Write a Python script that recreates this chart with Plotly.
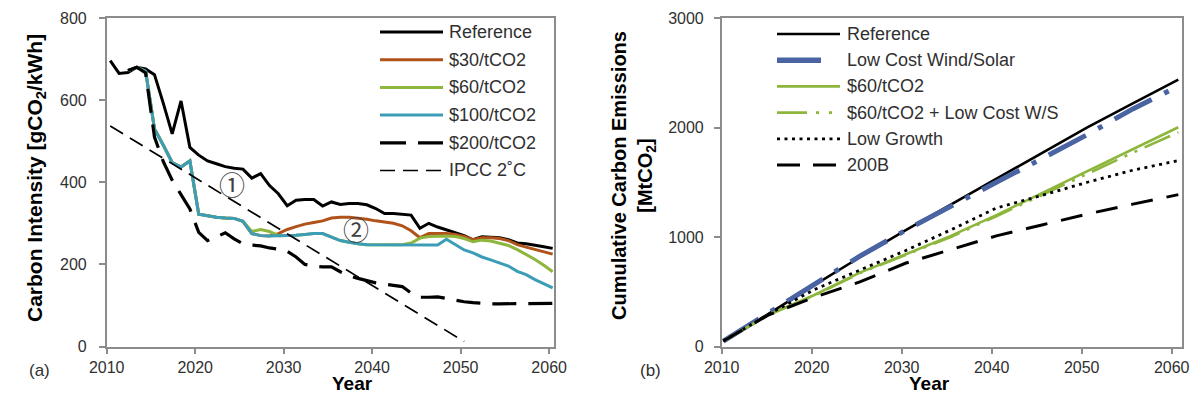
import plotly.graph_objects as go

W, H = 1204, 407
FONT = "Liberation Sans, Arial, sans-serif"
AX = "#8c8c8c"
TXT = "#303030"

# ---------------- data: panel (a) carbon intensity ----------------
years_ref = list(range(2010, 2061))
years_pol = list(range(2012, 2061))

ref_int = [696, 665, 667, 680, 676, 662, 592, 518, 598, 485,
           466, 452, 445, 438, 434, 432, 410, 421, 392, 372,
           343, 356, 358, 358, 342, 352, 346, 348, 348, 345,
           336, 324, 324, 322, 320, 288, 300, 291, 284, 278,
           270, 260, 267, 266, 265, 260, 252, 250, 247, 243, 239]

c30 = [672, 680, 670, 530, 490, 448, 437, 452, 322, 318,
       315, 313, 312, 305, 275, 270, 269, 275, 285, 292,
       298, 302, 306, 313, 315, 315, 313, 310, 306, 303,
       300, 294, 282, 265, 275, 275, 275, 273, 268, 260,
       265, 265, 263, 258, 248, 242, 236, 230, 225]

c60 = [672, 680, 670, 530, 490, 448, 437, 452, 322, 318,
       315, 313, 312, 305, 280, 285, 280, 270, 270, 271,
       273, 275, 275, 266, 258, 254, 250, 248, 248, 248,
       248, 248, 252, 264, 268, 269, 269, 268, 263, 255,
       259, 257, 252, 246, 236, 225, 212, 198, 182]

c100 = [672, 680, 670, 530, 490, 448, 437, 452, 322, 318,
        315, 313, 312, 305, 275, 270, 269, 270, 270, 271,
        273, 275, 275, 266, 258, 254, 250, 248, 248, 248,
        248, 248, 247, 247, 247, 247, 261, 248, 235, 228,
        218, 211, 203, 196, 183, 175, 163, 153, 143]

c200 = [672, 680, 666, 510, 450, 405, 370, 335, 278, 258,
        267, 277, 262, 250, 247, 245, 240, 237, 232, 218,
        200, 196, 194, 194, 182, 172, 166, 160, 155, 152,
        149, 146, 130, 120, 120, 121, 117, 113, 109, 107,
        105, 104, 104, 104, 105, 104, 104, 104, 105]

ipcc_years = [2010, 2050]
ipcc_vals = [537, 12]

# ---------------- data: panel (b) cumulative emissions ----------------
cum_years = [2010, 2015, 2020, 2025, 2030, 2035, 2040, 2045, 2050, 2055, 2060]
cum_ref = [50, 300, 560, 815, 1060, 1295, 1525, 1760, 2002, 2220, 2438]
cum_lcws = [50, 305, 570, 825, 1060, 1285, 1500, 1715, 1935, 2170, 2377]
cum_60 = [50, 290, 470, 675, 840, 1010, 1200, 1400, 1600, 1800, 2002]
cum_60lc = [50, 290, 465, 670, 835, 1000, 1190, 1385, 1580, 1770, 1956]
cum_low = [50, 295, 520, 700, 875, 1065, 1265, 1380, 1500, 1610, 1698]
cum_200b = [50, 290, 450, 590, 760, 885, 1010, 1110, 1210, 1300, 1387]

tick_years = [2010, 2020, 2030, 2040, 2050, 2060]

BROWN = "#B0521A"
GREEN = "#8DB63C"
TEAL = "#3C9DB6"
BLUE = "#4A64A3"

fig = go.Figure()

def add(x, y, color, width, dash="solid", xa="x", ya="y"):
    fig.add_trace(go.Scatter(x=x, y=y, mode="lines", xaxis=xa, yaxis=ya,
                             line=dict(color=color, width=width, dash=dash),
                             showlegend=False, hoverinfo="skip"))

# panel (a)
add(years_ref, ref_int, "black", 3)
add(years_pol, c30, BROWN, 3)
add(years_pol, c60, GREEN, 3)
add(years_pol, c100, TEAL, 3)
add(years_pol, c200, "black", 3.2, "24px,12px")
add(ipcc_years, ipcc_vals, "black", 1.7, "15px,8px")

# panel (b)
add(cum_years, cum_ref, "black", 2.6, xa="x2", ya="y2")
add(cum_years, cum_lcws, BLUE, 5, "42px,14px,5px,14px", "x2", "y2")
add(cum_years, cum_60, GREEN, 2.6, xa="x2", ya="y2")
add(cum_years, cum_60lc, GREEN, 2.6, "28px,8px,3px,8px,3px,8px", "x2", "y2")
add(cum_years, cum_low, "black", 2.8, "3px,4.5px", "x2", "y2")
add(cum_years, cum_200b, "black", 3, "22px,14px", "x2", "y2")

def px(x):
    return x / W

def py(y):
    return 1 - y / H

ydom = [py(346.5), py(18)]
axis_common = dict(showline=True, linecolor=AX, linewidth=1.5, mirror=True,
                   showgrid=False, zeroline=False, ticks="outside",
                   tickcolor=AX, tickwidth=1.5, ticklen=6, automargin=False,
                   tickfont=dict(family=FONT, size=16, color=TXT))

fig.update_layout(
    template="none",
    width=W, height=H, margin=dict(l=0, r=0, t=0, b=0, pad=0),
    paper_bgcolor="white", plot_bgcolor="white",
    xaxis=dict(domain=[px(106.7), px(554)], range=[2009.6, 2060.15],
               tickvals=[t - 0.4 for t in tick_years],
               ticktext=[str(t) for t in tick_years], anchor="y", **axis_common),
    yaxis=dict(domain=ydom, range=[0, 800], tickvals=[0, 200, 400, 600, 800],
               anchor="x", ticklabelstandoff=9, **axis_common),
    xaxis2=dict(domain=[px(721.7), px(1181.7)], range=[2009.82, 2060.37],
                tickvals=[2009.82 + (t - 2010) * 0.989 for t in tick_years],
                ticktext=[str(t) for t in tick_years], anchor="y2", **axis_common),
    yaxis2=dict(domain=ydom, range=[0, 3000], tickvals=[0, 1000, 2000, 3000],
                anchor="x2", ticklabelstandoff=7, **axis_common),
)

ann = []
shapes = []

# axis titles
ann.append(dict(x=px(330), y=py(396), xref="paper", yref="paper", text="<b>Year</b>",
                showarrow=False, font=dict(family=FONT, size=19, color="black")))
ann.append(dict(x=px(951.7), y=py(396), xref="paper", yref="paper", text="<b>Year</b>",
                showarrow=False, font=dict(family=FONT, size=19, color="black")))
ann.append(dict(x=px(21), y=py(178), xref="paper", yref="paper", textangle=-90,
                text="<b>Carbon Intensity [gCO<sub>2</sub>/kWh]</b>",
                showarrow=False, font=dict(family=FONT, size=21, color="black")))
ann.append(dict(x=px(633), y=py(176), xref="paper", yref="paper", textangle=-90,
                text="<b>Cumulative Carbon Emissions<br>[MtCO<sub>2</sub>]</b>",
                showarrow=False, font=dict(family=FONT, size=20, color="black")))
# panel labels
ann.append(dict(x=px(27), y=py(382), xref="paper", yref="paper", text="(a)",
                showarrow=False, font=dict(family=FONT, size=17, color=TXT)))
ann.append(dict(x=px(650), y=py(382), xref="paper", yref="paper", text="(b)",
                showarrow=False, font=dict(family=FONT, size=17, color=TXT)))
# circled markers
ann.append(dict(x=2023.8, y=397, xref="x", yref="y", text="①", showarrow=False,
                font=dict(family="Noto Sans CJK JP", size=26, color="#404040")))
ann.append(dict(x=2037.8, y=288, xref="x", yref="y", text="②", showarrow=False,
                font=dict(family="Noto Sans CJK JP", size=26, color="#404040")))

# legends drawn manually
def legend(x0, x1, xt, rows):
    for (yy, color, width, dash, label) in rows:
        shapes.append(dict(type="line", xref="paper", yref="paper",
                           x0=px(x0), x1=px(x1), y0=py(yy), y1=py(yy),
                           line=dict(color=color, width=width, dash=dash)))
        ann.append(dict(x=px(xt), y=py(yy), xref="paper", yref="paper",
                        xanchor="left", yanchor="middle", text=label,
                        showarrow=False, font=dict(family=FONT, size=18, color=TXT)))

legend(380, 443, 447, [
    (32, "black", 3, "solid", "Reference"),
    (59.7, BROWN, 3, "solid", "$30/tCO2"),
    (87.4, GREEN, 3, "solid", "$60/tCO2"),
    (115.1, TEAL, 3, "solid", "$100/tCO2"),
    (142.8, "black", 3.2, "26px,12px", "$200/tCO2"),
    (170.5, "black", 1.7, "15px,8px", "IPCC 2˚C"),
])
legend(777, 840, 845, [
    (34, "black", 2.6, "solid", "Reference"),
    (60.2, BLUE, 5.5, "44px,30px", "Low Cost Wind/Solar"),
    (86.4, GREEN, 2.6, "solid", "$60/tCO2"),
    (112.6, GREEN, 2.6, "30px,9px,3px,10px,3px,10px", "$60/tCO2 + Low Cost W/S"),
    (138.8, "black", 2.8, "3px,4.5px", "Low Growth"),
    (165, "black", 3, "23px,13px", "200B"),
])

fig.update_layout(annotations=ann, shapes=shapes)
fig.write_html("out.html")
